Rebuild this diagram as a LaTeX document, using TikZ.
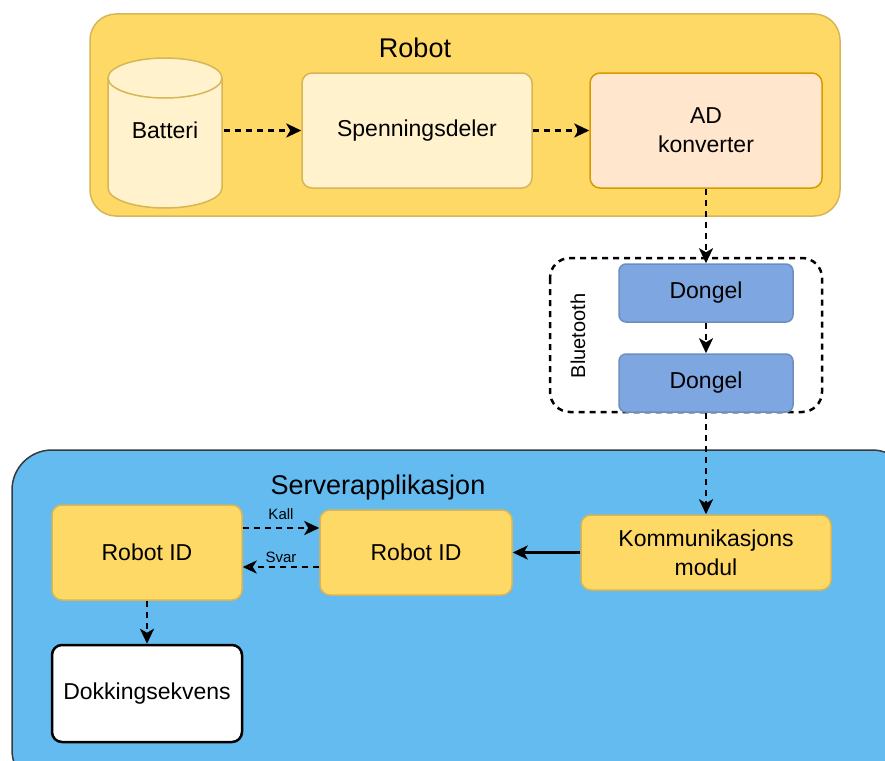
\documentclass[tikz,border=0pt]{standalone}
\usepackage{fontspec}
\setmainfont{Liberation Sans}
\usepackage{xcolor}
\usepackage{tikz}
\usetikzlibrary{arrows.meta, positioning}

\definecolor{goldfill}{HTML}{FFD966}
\definecolor{goldline}{HTML}{D6B656}
\definecolor{paleyellow}{HTML}{FFF2CC}
\definecolor{peachfill}{HTML}{FFE6CC}
\definecolor{peachline}{HTML}{D79B00}
\definecolor{donglefill}{HTML}{7EA6E0}
\definecolor{dongleline}{HTML}{6C8EBF}
\definecolor{serverfill}{HTML}{64BBEF}
\definecolor{serverline}{HTML}{36393D}

\begin{document}
\begin{tikzpicture}[
    x=1pt, y=-1pt,
    container/.style={rectangle, rounded corners=26pt, line width=1.5pt},
    title/.style={font=\fontsize{27}{31}\selectfont},
    block/.style={rectangle, draw=goldline, fill=goldfill, rounded corners=10pt, line width=1.5pt, align=center, font=\fontsize{23}{29}\selectfont},
    dongle/.style={block, draw=dongleline, fill=donglefill, rounded corners=7pt, minimum width=174pt, minimum height=58pt},
    flow/.style={-{Stealth[length=15pt, width=14pt, inset=4pt]}, line width=2.8pt, dash pattern=on 6pt off 5pt},
    reply/.style={-{Stealth[open, length=14pt, width=13pt, inset=4pt]}, line width=2.6pt, dash pattern=on 6pt off 5pt},
    link/.style={-{Stealth[length=15pt, width=14pt, inset=4pt]}, line width=2.8pt},
    tag/.style={font=\fontsize{15}{17}\selectfont, inner sep=1pt}
]
\useasboundingbox (0,0) rectangle (885,760);
\clip (0,0) rectangle (885,760);

% robot side
\node[container, draw=goldline, fill=goldfill, minimum width=750pt, minimum height=202pt] (robot) at (465,115) {};
\node[title] (robottitle) at (415,48) {Robot};

\filldraw[fill=paleyellow, draw=goldline, line width=1.5pt] (108,78) -- (108,188)
    arc[start angle=180, end angle=360, x radius=57pt, y radius=20pt] -- (222,78)
    arc[start angle=0, end angle=180, x radius=57pt, y radius=20pt] -- cycle;
\draw[goldline, line width=1.5pt] (108,78) arc[start angle=180, end angle=360, x radius=57pt, y radius=20pt];
\node[font=\fontsize{23}{29}\selectfont, minimum width=118pt, minimum height=115pt] (batteri) at (165,130.5) {Batteri};

\node[block, fill=paleyellow, minimum width=230pt, minimum height=115pt] (spenning) at (417,130.5) {Spenningsdeler};
\node[block, draw=peachline, fill=peachfill, minimum width=232pt, minimum height=115pt] (adconv) at (706,130.5) {AD\\konverter};

% bluetooth link
\draw[line width=2.5pt, dash pattern=on 6pt off 5pt, rounded corners=20pt] (550,258) rectangle (822,412);
\node[rotate=90, font=\fontsize{20}{24}\selectfont] (btlabel) at (578,336) {Bluetooth};
\node[dongle] (dongleA) at (706,293) {Dongel};
\node[dongle] (dongleB) at (706,383) {Dongel};

% server side
\node[container, draw=serverline, fill=serverfill, rounded corners=40pt, minimum width=900pt, minimum height=340pt] (server) at (462,620) {};
\node[title] (servertitle) at (378,488) {Serverapplikasjon};

\node[block, minimum width=190pt, minimum height=95pt] (idleft) at (147,552.5) {Robot ID};
\node[block, minimum width=192pt, minimum height=85pt] (idmid) at (416,552.5) {Robot ID};
\node[block, minimum width=250pt, minimum height=75pt] (komm) at (706,552.5) {Kommunikasjons\\modul};
\node[block, draw=black, fill=white, line width=2.5pt, minimum width=190pt, minimum height=97pt] (dokking) at (147,693.5) {Dokkingsekvens};

\draw[flow] (batteri) -- (spenning);
\draw[flow] (spenning) -- (adconv);
\draw[flow] (adconv) -- (dongleA);
\draw[flow] (dongleA) -- (dongleB);
\draw[flow] (dongleB) -- (komm);
\draw[link] (komm) -- (idmid);
\draw[flow] ([yshift=24.5pt]idleft.east) -- node[tag, above=6pt]{Kall} ([yshift=24.5pt]idmid.west);
\draw[reply] ([yshift=-14.5pt]idmid.west) -- node[tag, above=2pt]{Svar} ([yshift=-14.5pt]idleft.east);
\draw[flow] (idleft) -- (dokking);
\end{tikzpicture}
\end{document}
